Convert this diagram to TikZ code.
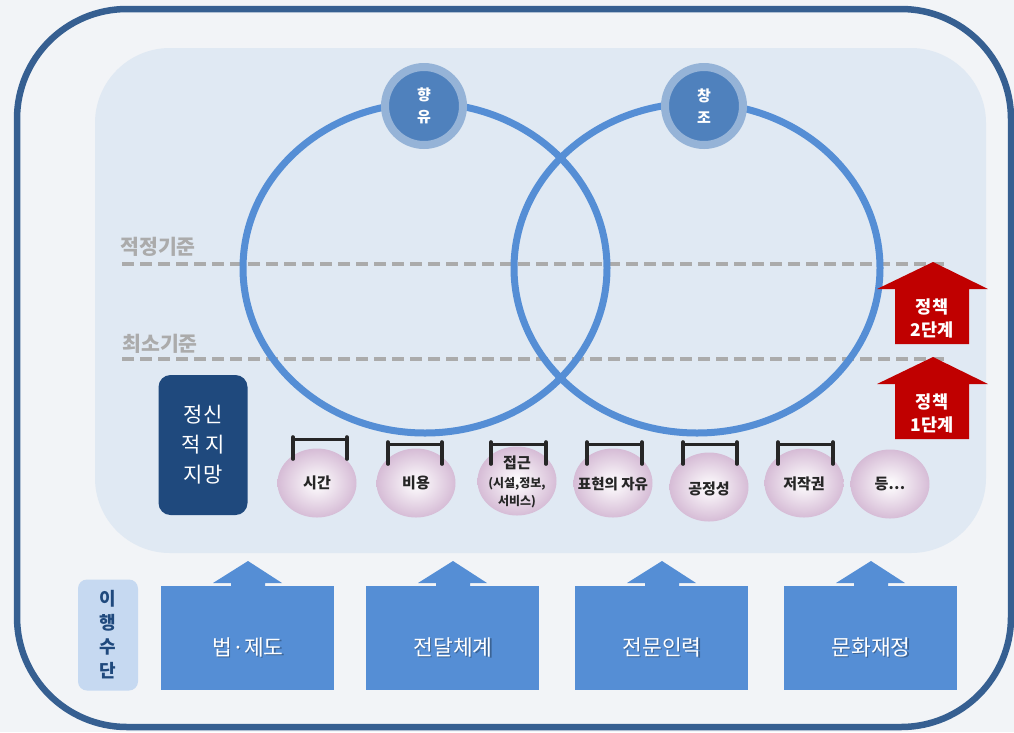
\documentclass[tikz,border=0pt]{standalone}
\usepackage{fontspec}
\setmainfont{Noto Sans CJK KR}
\usetikzlibrary{shadings,shapes.geometric}
\definecolor{bgc}{HTML}{F2F4F7}
\definecolor{frame}{HTML}{365F91}
\definecolor{panel}{HTML}{E0E9F3}
\definecolor{ringblue}{HTML}{558ED5}
\definecolor{smallout}{HTML}{95B3D7}
\definecolor{smallin}{HTML}{4F81BD}
\definecolor{darkbox}{HTML}{1F497D}
\definecolor{pinkc}{HTML}{D6BCD6}
\definecolor{boxblue}{HTML}{558ED5}
\definecolor{lightlab}{HTML}{C6D9F1}
\definecolor{redar}{HTML}{C00000}
\definecolor{dashc}{HTML}{ABABAB}
\definecolor{txtdark}{HTML}{262626}
\tikzset{
  ring/.style={draw=ringblue, line width=7pt},
  dashln/.style={draw=dashc, line width=3.5pt, dash pattern=on 12pt off 6pt},
  stdlab/.style={text=dashc, font=\bfseries\fontsize{20.5}{20}\selectfont},
  pinkfill/.style={inner color=white, outer color=pinkc},
  balltext/.style={align=center, text=txtdark, inner sep=0pt, font=\bfseries\fontsize{15}{17}\selectfont},
  hang/.style={draw=black!85, line width=3.6pt, line cap=round},
  redarrow/.style={fill=redar},
  baselab/.style={text=white, font=\fontsize{21.5}{21}\selectfont},
  shadowlab/.style={text=black, opacity=0.3, font=\fontsize{21.5}{21}\selectfont},
  bluebox/.style={fill=boxblue},
  topcircle/.style={circle, fill=smallin, draw=smallout, line width=8pt, minimum size=78pt, inner sep=0pt,
     text=white, align=center, font=\bfseries\fontsize{15}{22}\selectfont},
}
\begin{document}
\begin{tikzpicture}[x=1pt,y=-1pt]
\useasboundingbox (0,0) rectangle (1014,732);
\fill[bgc] (0,0) rectangle (1014,732);
% outer frame
\draw[frame, line width=6.5pt, rounded corners=110pt] (17,9) rectangle (1011,727);
% inner panel
\fill[panel, rounded corners=75pt] (95,48) rectangle (986,553);
% dashed lines
\coordinate (d1a) at (122,264); \coordinate (d1b) at (948,264);
\coordinate (d2a) at (122,359); \coordinate (d2b) at (948,359);
\draw[dashln] (d1a) -- (d1b);
\draw[dashln] (d2a) -- (d2b);
\node[stdlab] (lab1) at (158,247) {적정기준};
\node[stdlab] (lab2) at (160,344) {최소기준};
% big rings
\draw[ring] (425,268) ellipse [x radius=182, y radius=165];
\draw[ring] (697,268) ellipse [x radius=183, y radius=165];
% top circles
\node[topcircle] (hy) at (424,106) {향\\유};
\node[topcircle] (cj) at (704,106) {창\\조};
% red arrows
\fill[redarrow] (895,344) -- (895,289) -- (877,289) -- (933,262) -- (988,289) -- (969,289) -- (969,344) -- cycle;
\node[text=white, align=center, font=\bfseries\fontsize{17.5}{23}\selectfont] (p2) at (932,318) {정책\\2단계};
\fill[redarrow] (895,439) -- (895,384) -- (877,384) -- (933,357) -- (988,384) -- (969,384) -- (969,439) -- cycle;
\node[text=white, align=center, font=\bfseries\fontsize{17.5}{23}\selectfont] (p1) at (932,413) {정책\\1단계};
% mental support box
\node[fill=darkbox, rounded corners=12pt, minimum width=89pt, minimum height=140pt, inner sep=0pt,
      text=white, align=center, font=\fontsize{21}{30}\selectfont] (ms) at (203,445) {정신\\적 지\\지망};
% pink balls
\foreach \x/\y in {317/483, 416/483, 517/481, 613/483, 709/487, 804/483, 890/484}{
  \shade[pinkfill] (\x,\y) ellipse [x radius=39.5, y radius=34.5];
}
\node[balltext] (b1) at (317,483) {시간};
\node[balltext] (b2) at (416,483) {비용};
\node[balltext] (b3a) at (517,463) {접근};
\node[balltext, font=\bfseries\fontsize{12}{18}\selectfont] (b3b) at (517,493) {(시설,정보,\\서비스)};
\node[balltext, font=\bfseries\fontsize{14.5}{17}\selectfont] (b4) at (613,484) {표현의 자유};
\node[balltext] (b5) at (709,489) {공정성};
\node[balltext] (b6) at (804,484) {저작권};
\node[balltext] (b7) at (890,484) {등…};
% hangers
\foreach \a/\b/\t in {293/347/437, 388/442/442, 491/546/442, 587/642/442, 683/737/442, 778/833/442}{
  \draw[hang] (\a,\t) -- (\a,\t+22);
  \draw[hang] (\b,\t) -- (\b,\t+22);
  \draw[draw=black!85, line width=2.2pt] (\a,\t+2.5) -- (\b,\t+2.5);
}
% implementation label
\node[fill=lightlab, rounded corners=9pt, minimum width=60pt, minimum height=111pt, inner sep=0pt,
      text=darkbox, align=center, font=\bfseries\fontsize{18}{24}\selectfont] (im) at (108,635) {이\\행\\수\\단};
% bottom boxes
\foreach \x/\n/\t in {161/m1/법{}·제도, 366/m2/전달체계, 575/m3/전문인력, 784/m4/문화재정}{
  \fill[bluebox] (\x,586) rectangle (\x+173,690);
  \fill[bluebox] (\x+70,588) -- (\x+70,583) -- (\x+52,583) -- (\x+87,561) -- (\x+121,583) -- (\x+104,583) -- (\x+104,588) -- cycle;
  \node[shadowlab] at (\x+88.3,648.3) {\t};
  \node[baselab] (\n) at (\x+87,647) {\t};
}
\end{tikzpicture}
\end{document}
